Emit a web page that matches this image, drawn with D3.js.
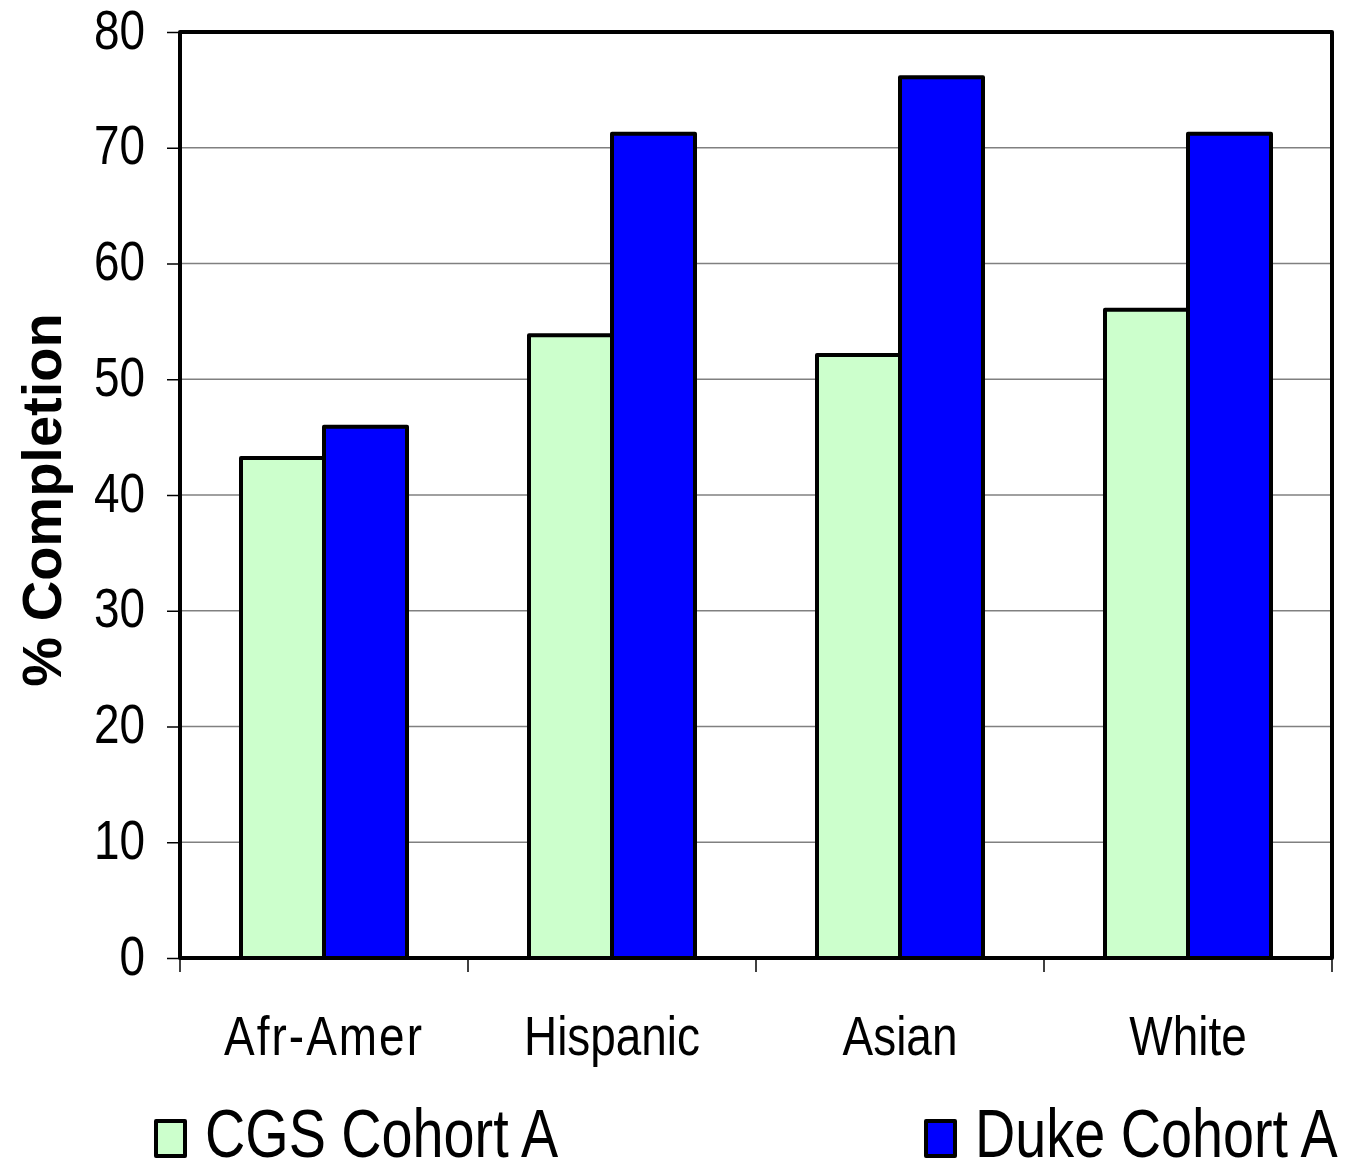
<!DOCTYPE html>
<html>
<head>
<meta charset="utf-8">
<script src="https://cdn.jsdelivr.net/npm/d3@7"></script>
<style>
  html, body { margin: 0; padding: 0; background: #fff; }
  svg { display: block; }
  text { font-family: "Liberation Sans", Arial, sans-serif; }
</style>
</head>
<body>
<svg id="chart" width="1349" height="1163"></svg>
<script>
// Completion rates by group for two cohorts
const categories = ["Afr-Amer", "Hispanic", "Asian", "White"];
const seriesNames = ["CGS Cohort A", "Duke Cohort A"];
const cgsValues = [43.2, 53.8, 52.1, 56.0];
const dukeValues = [45.9, 71.2, 76.1, 71.2];
const yTicks = [0, 10, 20, 30, 40, 50, 60, 70, 80];
const seriesColors = ["#CCFFCC", "#0000FF"];

// Condensed look for the regular labels
const SQUEEZE = 0.82;

const svg = d3.select("#chart");
const plot = { left: 180, right: 1332, top: 32, bottom: 958 };

const x0 = d3.scaleBand()
  .domain(categories)
  .range([plot.left, plot.right])
  .paddingInner(0)
  .paddingOuter(0);

const groupFrac = 166 / 288;
const bw = x0.bandwidth();
const x1 = d3.scaleBand()
  .domain(seriesNames)
  .range([bw * (1 - groupFrac) / 2, bw * (1 + groupFrac) / 2])
  .padding(0);

const y = d3.scaleLinear().domain([0, 80]).range([plot.bottom, plot.top]);

// Horizontal gridlines
svg.append("g")
  .selectAll("line")
  .data(yTicks.filter(t => t > 0 && t < 80))
  .join("line")
  .attr("x1", plot.left).attr("x2", plot.right)
  .attr("y1", d => y(d)).attr("y2", d => y(d))
  .attr("stroke", "#808080")
  .attr("stroke-width", 1.5);

// Y axis with ticks and labels
const tickLen = 13, tickPad = 22;
const yAxis = d3.axisLeft(y).tickValues(yTicks).tickSize(tickLen).tickPadding(tickPad);
const gy = svg.append("g")
  .attr("transform", `translate(${plot.left},0)`)
  .call(yAxis);
gy.select(".domain").remove();
gy.selectAll(".tick line").attr("stroke", "#000").attr("stroke-width", 1.5);
gy.selectAll(".tick text")
  .attr("font-family", "Liberation Sans, Arial, sans-serif")
  .attr("font-size", 56)
  .attr("fill", "#000")
  .attr("x", -(tickLen + tickPad) / SQUEEZE)
  .attr("dy", "0.29em")
  .attr("transform", `scale(${SQUEEZE},1)`);

// X axis: ticks at band boundaries, labels centered in bands
const boundaries = categories.map(c => x0(c)).concat([plot.right]);
svg.append("g")
  .selectAll("line")
  .data(boundaries)
  .join("line")
  .attr("x1", d => d).attr("x2", d => d)
  .attr("y1", plot.bottom).attr("y2", plot.bottom + 14)
  .attr("stroke", "#000").attr("stroke-width", 1.5);

svg.append("g")
  .selectAll("text")
  .data(categories)
  .join("text")
  .attr("transform", d => `translate(${x0(d) + bw / 2},1055) scale(${SQUEEZE},1)`)
  .attr("text-anchor", "middle")
  .attr("font-size", 56)
  .attr("letter-spacing", d => d === "Afr-Amer" ? 2.5 : 0)
  .attr("fill", "#000")
  .text(d => d);

// Bars
const rows = categories.map((c, i) => ({
  cat: c,
  values: [
    { name: seriesNames[0], value: cgsValues[i], color: seriesColors[0] },
    { name: seriesNames[1], value: dukeValues[i], color: seriesColors[1] }
  ]
}));

svg.append("g")
  .selectAll("g")
  .data(rows)
  .join("g")
  .attr("transform", d => `translate(${x0(d.cat)},0)`)
  .selectAll("rect")
  .data(d => d.values)
  .join("rect")
  .attr("x", d => x1(d.name))
  .attr("y", d => y(d.value))
  .attr("width", x1.bandwidth())
  .attr("height", d => y(0) - y(d.value))
  .attr("fill", d => d.color)
  .attr("stroke", "#000")
  .attr("stroke-width", 4)
  .attr("stroke-linejoin", "round");

// Plot frame
svg.append("rect")
  .attr("x", plot.left).attr("y", plot.top)
  .attr("width", plot.right - plot.left)
  .attr("height", plot.bottom - plot.top)
  .attr("fill", "none")
  .attr("stroke", "#000")
  .attr("stroke-width", 4)
  .attr("stroke-linejoin", "round");

// Y axis title
svg.append("text")
  .attr("transform", "translate(61,500) rotate(-90)")
  .attr("text-anchor", "middle")
  .attr("font-weight", "bold")
  .attr("font-size", 56)
  .attr("fill", "#000")
  .text("% Completion");

// Legend
const legendItems = [
  { name: seriesNames[0], color: seriesColors[0], x: 155 },
  { name: seriesNames[1], color: seriesColors[1], x: 925 }
];
const lg = svg.append("g")
  .selectAll("g")
  .data(legendItems)
  .join("g")
  .attr("transform", d => `translate(${d.x},1120)`);
lg.append("rect")
  .attr("x", 1).attr("y", 1)
  .attr("width", 29).attr("height", 35)
  .attr("fill", d => d.color)
  .attr("stroke", "#000")
  .attr("stroke-width", 4)
  .attr("stroke-linejoin", "round");
lg.append("text")
  .attr("transform", `translate(50,37) scale(${SQUEEZE},1)`)
  .attr("font-size", 68)
  .attr("fill", "#000")
  .text(d => d.name);
</script>
</body>
</html>
